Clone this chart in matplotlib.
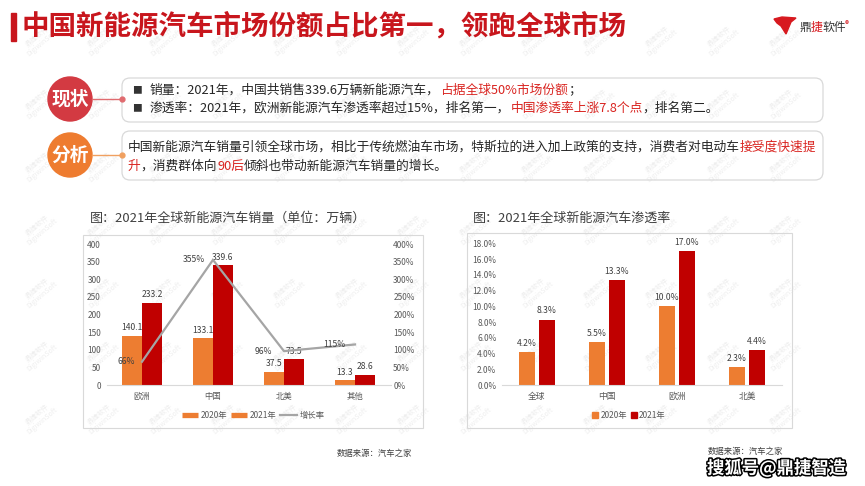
import matplotlib
matplotlib.use("Agg")
import matplotlib.pyplot as plt
import matplotlib.patheffects as pe
from matplotlib.patches import FancyBboxPatch, Circle, Rectangle, Polygon
from matplotlib.lines import Line2D
from matplotlib.ticker import FuncFormatter
import numpy as np

plt.rcParams['font.family'] = ['Noto Sans CJK SC', 'DejaVu Sans']

#************************************** DATA **************************************
sales_regions = ["欧洲", "中国", "北美", "其他"]
sales_2020 = [140.1, 133.1, 37.5, 13.3]
sales_2021 = [233.2, 339.6, 73.5, 28.6]
growth = [0.66, 3.55, 0.96, 1.15]
sales_ticks = [0, 50, 100, 150, 200, 250, 300, 350, 400]
growth_ticks = [0, 0.5, 1.0, 1.5, 2.0, 2.5, 3.0, 3.5, 4.0]

pen_regions = ["全球", "中国", "欧洲", "北美"]
pen_2020 = [0.042, 0.055, 0.100, 0.023]
pen_2021 = [0.083, 0.133, 0.170, 0.044]
pen_ticks = [0, 0.02, 0.04, 0.06, 0.08, 0.10, 0.12, 0.14, 0.16, 0.18]

series_names = ["2020年", "2021年"]
line_name = "增长率"
#**********************************************************************************

ORANGE = "#ed7d31"
DARKRED = "#c00000"
GRAY = "#a5a5a5"
TXT = "#262626"
HI = "#d9231f"
TITLE_RED = "#c8161d"

W, H = 865, 486
fig = plt.figure(figsize=(W / 100, H / 100), dpi=100)
tr = fig.dpi_scale_trans


def inch(x, y):
    return x / 100, (H - y) / 100


def ftext(x, y, s, **kw):
    return fig.text(x / W, 1 - y / H, s, **kw)


def rich(x, y, parts, size=9.2):
    r = fig.canvas.get_renderer()
    for s, c in parts:
        t = ftext(x, y, s, fontsize=size, color=c, va="center", ha="left")
        x = t.get_window_extent(r).x1


# faint background watermark, kept behind everything
for wx in range(40, 840, 62):
    for wy in range(40, 460, 63):
        ftext(wx, wy, "鼎捷软件\nDigiwinSoft", fontsize=5, color="#eeeeee",
              rotation=40, ha="center", va="center", linespacing=1.0, zorder=-5)

# header
fig.patches.append(Rectangle(inch(11, 41), 0.05, 0.28, transform=tr, color=TITLE_RED))
ftext(22, 27, "中国新能源汽车市场份额占比第一，领跑全球市场", fontsize=19.8,
      fontweight="bold", color=TITLE_RED, va="center")

# logo
x0, y0 = 774, 17
logo = [(0, 2), (8, 0), (22, 1), (17, 5), (12, 17), (7, 9), (3, 6)]
fig.patches.append(Polygon([inch(x0 + a, y0 + b) for a, b in logo], closed=True,
                           transform=tr, color="#d7191f"))
rich(799, 27, [("鼎", "#333333"), ("捷", "#d7191f"), ("软件", "#333333")], size=8.5)
ftext(845, 25, "®", fontsize=6, color="#d7191f", va="center")

# status / analysis boxes
for (top, bot) in [(78, 122), (131, 180)]:
    fig.patches.append(FancyBboxPatch(inch(122, bot), (823 - 122) / 100, (bot - top) / 100,
                                      boxstyle="round,pad=0,rounding_size=0.08",
                                      transform=tr, fc="none", ec="#d9d9d9", lw=0.9))

for cy, col, lcol, label in [(99, "#d33a42", "#e06b6f", "现状"), (155, "#ee7c30", "#f0a060", "分析")]:
    fig.lines.append(Line2D([0.92, 1.22], [inch(0, cy)[1]] * 2, transform=tr, color=lcol, lw=1))
    fig.lines.append(Line2D([1.22], [inch(0, cy)[1]], transform=tr, color=lcol,
                            marker="o", ms=3.5, lw=0))
    fig.patches.append(Circle(inch(70, cy), 0.22, transform=tr, color=col))
    ftext(70, cy, label, fontsize=13.5, fontweight="bold", color="white",
          ha="center", va="center")

ftext(132, 90, "■", fontsize=7, color="#333333", va="center")
ftext(132, 108, "■", fontsize=7, color="#333333", va="center")
rich(150, 90, [("销量：2021年，中国共销售339.6万辆新能源汽车，", TXT),
               ("占据全球50%市场份额", HI), ("；", TXT)])
rich(150, 108, [("渗透率：2021年，欧洲新能源汽车渗透率超过15%，排名第一，", TXT),
                ("中国渗透率上涨7.8个点", HI), ("，排名第二。", TXT)])
rich(128, 147, [("中国新能源汽车销量引领全球市场，相比于传统燃油车市场，特斯拉的进入加上政策的支持，消费者对电动车", TXT),
                ("接受度快速提", HI)])
rich(128, 166, [("升", HI), ("，消费群体向", TXT), ("90后", HI),
                ("倾斜也带动新能源汽车销量的增长。", TXT)])

# chart panels
fig.patches.append(Rectangle(inch(83, 428), 3.40, 1.93, transform=tr, fill=False,
                             ec="#d9d9d9", lw=0.8))
fig.patches.append(Rectangle(inch(467, 428), 3.25, 1.95, transform=tr, fill=False,
                             ec="#d9d9d9", lw=0.8))
ftext(90, 218, "图：2021年全球新能源汽车销量（单位：万辆）", fontsize=9.4, color="#404040", va="center")
ftext(473, 218, "图：2021年全球新能源汽车渗透率", fontsize=9.4, color="#404040", va="center")


def style_axis(ax):
    ax.set_facecolor("none")
    for s in ["top", "right", "left"]:
        ax.spines[s].set_visible(False)
    ax.spines["bottom"].set_color("#d9d9d9")
    ax.spines["bottom"].set_linewidth(0.8)
    ax.tick_params(length=0, colors="#595959")


# ----- left chart: sales -----
x = np.arange(len(sales_regions))
bw = 0.28
ax1 = fig.add_axes([106.5 / W, 1 - 385 / H, 284 / W, 141 / H])
style_axis(ax1)
ax1.bar(x - bw / 2, sales_2020, bw, color=ORANGE)
ax1.bar(x + bw / 2, sales_2021, bw, color=DARKRED)
ax1.set_xlim(-0.5, 3.5)
ax1.set_ylim(0, 400)
ax1.set_yticks(sales_ticks)
ax1.set_xticks(x)
ax1.set_xticklabels(sales_regions)
ax1.tick_params(axis="y", labelsize=6, pad=4)
ax1.tick_params(axis="x", labelsize=6, pad=5)
for i, v in enumerate(sales_2020):
    ax1.annotate(f"{v}", (x[i] - bw / 2, v), xytext=(0, 2.5), textcoords="offset points",
                 ha="center", va="bottom", fontsize=6.2, color="#404040")
for i, v in enumerate(sales_2021):
    ax1.annotate(f"{v}", (x[i] + bw / 2, v), xytext=(0, 2.5), textcoords="offset points",
                 ha="center", va="bottom", fontsize=6.2, color="#404040")

ax2 = ax1.twinx()
style_axis(ax2)
ax2.spines["bottom"].set_visible(False)
ax2.plot(x, growth, color=GRAY, lw=1.6)
ax2.set_ylim(0, 4)
ax2.set_yticks(growth_ticks)
ax2.yaxis.set_major_formatter(FuncFormatter(lambda v, p: f"{v * 100:.0f}%"))
ax2.tick_params(axis="y", labelsize=6, pad=2)
shift_pct = [-5, -6, -8.5, -6.5]
for i, g in enumerate(growth):
    ax2.annotate(f"{g * 100:.0f}%", (x[i], g), xytext=(shift_pct[i], 0), textcoords="offset points",
                 ha="right", va="center", fontsize=6.2, color="#404040")

fig.legend(handles=[Line2D([], [], color=ORANGE, lw=3.8, solid_capstyle="butt"),
                    Line2D([], [], color=ORANGE, lw=3.8, solid_capstyle="butt"),
                    Line2D([], [], color=GRAY, lw=1.6)],
           labels=series_names + [line_name], ncol=3, loc="center",
           bbox_to_anchor=(253 / W, 1 - 415 / H), frameon=False, fontsize=6,
           handlelength=2.0, handletextpad=0.3, columnspacing=0.4, labelcolor="#595959")

# ----- right chart: penetration -----
xp = np.arange(len(pen_regions))
pw = 0.229
ax3 = fig.add_axes([502 / W, 1 - 385 / H, 280 / W, 141.7 / H])
style_axis(ax3)
ax3.bar(xp - 0.143, pen_2020, pw, color=ORANGE)
ax3.bar(xp + 0.143, pen_2021, pw, color=DARKRED)
ax3.set_xlim(-0.5, 3.5)
ax3.set_ylim(0, 0.18)
ax3.set_yticks(pen_ticks)
ax3.yaxis.set_major_formatter(FuncFormatter(lambda v, p: f"{v * 100:.1f}%"))
ax3.set_xticks(xp)
ax3.set_xticklabels(pen_regions)
ax3.tick_params(axis="y", labelsize=6, pad=4)
ax3.tick_params(axis="x", labelsize=6.3, pad=5)
for i, v in enumerate(pen_2020):
    ax3.annotate(f"{v * 100:.1f}%", (xp[i] - 0.143, v), xytext=(0, 3), textcoords="offset points",
                 ha="center", va="bottom", fontsize=6.2, color="#404040")
for i, v in enumerate(pen_2021):
    ax3.annotate(f"{v * 100:.1f}%", (xp[i] + 0.143, v), xytext=(0, 3), textcoords="offset points",
                 ha="center", va="bottom", fontsize=6.2, color="#404040")

fig.legend(handles=[Line2D([], [], color=ORANGE, marker="s", ms=3.8, lw=0),
                    Line2D([], [], color=DARKRED, marker="s", ms=3.8, lw=0)],
           labels=series_names, ncol=2, loc="center",
           bbox_to_anchor=(629 / W, 1 - 415 / H), frameon=False, fontsize=6,
           handlelength=0.6, handletextpad=0.3, columnspacing=0.5, labelcolor="#595959")

# sources and overlay watermark
ftext(337, 453, "数据来源：汽车之家", fontsize=6, color="#404040", va="center")
ftext(708, 451, "数据来源：汽车之家", fontsize=6, color="#404040", va="center")
ftext(707, 468, "搜狐号@鼎捷智造", fontsize=12.5, fontweight="bold", color="white", va="center",
      path_effects=[pe.withStroke(linewidth=2.2, foreground="black")])

fig.savefig("out.png", dpi=100)
